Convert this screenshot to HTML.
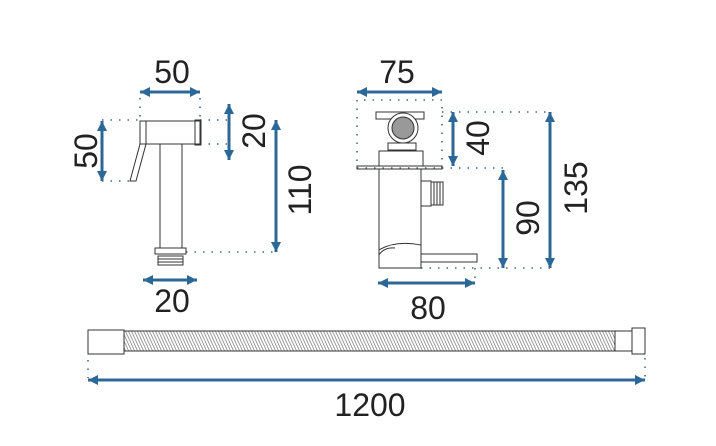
<!DOCTYPE html>
<html><head><style>
html,body{margin:0;padding:0;background:#fff;}
svg{display:block;}
text{font-family:"Liberation Sans",sans-serif;fill:#222;font-size:32px;}
</style></head><body>
<svg width="716" height="446" viewBox="0 0 716 446" xmlns="http://www.w3.org/2000/svg">
<defs>
<marker id="a" viewBox="0 0 10 10" refX="10" refY="5" markerWidth="13" markerHeight="10" orient="auto-start-reverse" markerUnits="userSpaceOnUse" style="overflow:visible">
<path d="M0,0 L10,5 L0,10 z" fill="#2b6797"/>
</marker>
<pattern id="h" width="3" height="20" patternUnits="userSpaceOnUse" patternTransform="skewX(25)">
<line x1="1" y1="0" x2="1" y2="20" stroke="#777" stroke-width="0.8"/>
</pattern>
</defs>
<g stroke="#2b6797" stroke-width="3" fill="none">
<line x1="140" y1="92" x2="200" y2="92" marker-start="url(#a)" marker-end="url(#a)"/>
<line x1="102" y1="121" x2="102" y2="181" marker-start="url(#a)" marker-end="url(#a)"/>
<line x1="229" y1="104" x2="229" y2="160" marker-start="url(#a)" marker-end="url(#a)"/>
<line x1="276" y1="120" x2="276" y2="252" marker-start="url(#a)" marker-end="url(#a)"/>
<line x1="143" y1="280" x2="197" y2="280" marker-start="url(#a)" marker-end="url(#a)"/>
<line x1="357" y1="92" x2="442" y2="92" marker-start="url(#a)" marker-end="url(#a)"/>
<line x1="453" y1="112" x2="453" y2="166" marker-start="url(#a)" marker-end="url(#a)"/>
<line x1="503" y1="170" x2="503" y2="268" marker-start="url(#a)" marker-end="url(#a)"/>
<line x1="550" y1="112" x2="550" y2="268" marker-start="url(#a)" marker-end="url(#a)"/>
<line x1="378" y1="283" x2="475" y2="283" marker-start="url(#a)" marker-end="url(#a)"/>
<line x1="88" y1="380" x2="645" y2="380" marker-start="url(#a)" marker-end="url(#a)"/>
</g>
<g stroke="#4a6a80" stroke-width="1.6" stroke-dasharray="1.5 7" fill="none">
<path d="M140 98V120M200 98V120M102 120H140M102 181H130M200 120H229M200 144H229M186 252H276"/>
<path d="M357 100V168H442V100H357M442 112H550M442 168H503M421 268H550M475 268V283"/>
<path d="M88 360V378M645 358V378"/>
</g>
<g stroke="#333" stroke-width="1" fill="none">
<rect x="140" y="121" width="60" height="23"/>
<rect x="195" y="120" width="6" height="25"/>
<path d="M140 121L146 121L146 144L136 181L130 181L140 144Z"/>
<rect x="160" y="144" width="22" height="104"/>
<rect x="155" y="248" width="31" height="6"/>
<rect x="158" y="256" width="25" height="9"/>
<path d="M158 259H183M158 262H183"/>
<rect x="376" y="112" width="48" height="7"/>
<circle cx="403" cy="128" r="15" fill="#fff"/>
<circle cx="403" cy="128" r="11" fill="#999"/>
<rect x="388" y="143" width="28" height="7"/>
<rect x="379" y="151" width="44" height="15"/>
<rect x="357" y="166" width="85" height="3"/>
<rect x="379" y="169" width="42" height="99"/>
<rect x="421" y="181" width="10" height="25"/>
<rect x="431" y="182" width="12" height="23"/>
<path d="M434 182V205M437 182V205M440 182V205"/>
<path d="M379 250Q395 240 421 245M379 255Q384 247 395 248"/>
<rect x="421" y="254" width="56" height="8"/>
<rect x="88" y="330" width="36" height="24"/>
<rect x="124" y="331" width="491" height="20" fill="url(#h)"/>
<rect x="615" y="331" width="17" height="20"/>
<rect x="632" y="328" width="13" height="26"/>
</g>
<text x="172" y="83" text-anchor="middle">50</text>
<text x="172" y="312" text-anchor="middle">20</text>
<text x="397" y="83" text-anchor="middle">75</text>
<text x="428" y="319" text-anchor="middle">80</text>
<text x="370" y="416" text-anchor="middle">1200</text>
<text transform="translate(97,151) rotate(-90)" text-anchor="middle">50</text>
<text transform="translate(265,131) rotate(-90)" text-anchor="middle">20</text>
<text transform="translate(311,190) rotate(-90)" text-anchor="middle">110</text>
<text transform="translate(489,138) rotate(-90)" text-anchor="middle">40</text>
<text transform="translate(539,218) rotate(-90)" text-anchor="middle">90</text>
<text transform="translate(587,188) rotate(-90)" text-anchor="middle">135</text>
</svg>
</body></html>
